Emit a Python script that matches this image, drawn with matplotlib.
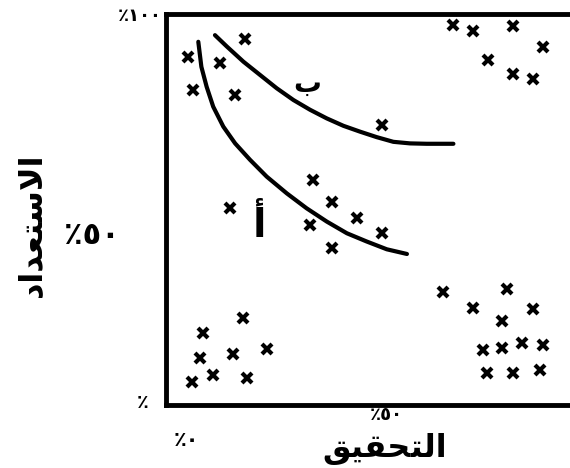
import matplotlib
matplotlib.use("Agg")
import matplotlib.pyplot as plt

plt.rcParams['font.family'] = ['DejaVu Sans']

# clusters of observations (percent achievement, percent readiness)
topleft_x = [5.0, 6.2, 12.3, 15.8, 18.0, 49.3, 14.6, 33.6, 37.9, 43.6, 49.3, 32.9, 37.9]
topleft_y = [89.0, 80.6, 87.5, 79.3, 93.6, 71.6, 50.4, 57.5, 51.9, 47.8, 44.0, 46.0, 40.2]
topright_x = [65.5, 70.1, 79.2, 86.1, 73.5, 79.2, 83.8]
topright_y = [97.2, 95.7, 96.9, 91.6, 88.2, 84.7, 83.4]
botright_x = [63.2, 77.9, 70.1, 83.8, 76.7, 72.4, 76.7, 81.3, 86.1, 73.3, 79.2, 85.4]
botright_y = [28.9, 29.7, 24.8, 24.6, 21.5, 14.1, 14.6, 15.9, 15.3, 8.2, 8.2, 9.0]
botleft_x = [8.4, 17.6, 7.8, 15.3, 23.1, 10.7, 5.9, 18.5]
botleft_y = [18.4, 22.3, 12.0, 13.0, 14.3, 7.7, 5.9, 6.9]

# curve b (upper) and curve a (lower)
curve_b_x = [11.2, 13.9, 17.7, 21.5, 25.3, 29.1, 32.9, 36.7, 40.5, 44.3, 48.1, 51.9, 55.7, 59.5, 65.6]
curve_b_y = [94.6, 91.7, 87.8, 84.4, 81.0, 78.0, 75.5, 73.3, 71.4, 69.9, 68.5, 67.3, 66.9, 66.8, 66.8]
curve_a_x = [7.4, 8.1, 9.3, 10.8, 13.1, 15.8, 19.2, 23.0, 27.6, 32.1, 36.7, 41.3, 45.8, 50.4, 55.0]
curve_a_y = [92.9, 86.5, 81.4, 76.3, 71.2, 66.9, 62.7, 58.4, 54.1, 50.3, 46.9, 43.9, 41.8, 39.8, 38.6]

# matplotlib has no arabic shaping, so the words are written in
# visual order with presentation forms
xlabel = '\ufed6\ufef4\ufed8\ufea4\ufe98\ufedf\ufe8d'          # التحقيق
ylabel = '\ufea9\ufe8d\ufeaa\ufecc\ufe98\ufeb3\ufefb\ufe8d'    # الاستعداد

fig = plt.figure(figsize=(5.7, 4.68), dpi=100)
ax = fig.add_axes([0.291, 0.135, 0.709, 0.835])
ax.set_xlim(0, 92.2)
ax.set_ylim(0, 100)
ax.set_xticks([])
ax.set_yticks([])
ax.spines['right'].set_visible(False)
for s in ['left', 'top', 'bottom']:
    ax.spines[s].set_linewidth(3.5)

for xs, ys in [(topleft_x, topleft_y), (topright_x, topright_y),
               (botright_x, botright_y), (botleft_x, botleft_y)]:
    ax.plot(xs, ys, 'x', color='black', ms=7.5, mew=3, linestyle='none')

ax.plot(curve_b_x, curve_b_y, color='black', lw=3, solid_capstyle='round')
ax.plot(curve_a_x, curve_a_y, color='black', lw=3, solid_capstyle='round')

ax.text(32.2, 82.0, 'ب', fontsize=20, fontweight='bold', ha='center', va='center')
ax.text(21.5, 46.0, 'أ', fontsize=28, fontweight='bold', ha='center', va='center')

# tick-like labels
fig.text(140 / 570, 1 - 16 / 468, '٪١٠٠', fontsize=13, fontweight='bold', ha='center', va='center')
fig.text(92 / 570, 1 - 235 / 468, '٪٥٠', fontsize=22, fontweight='bold', ha='center', va='center')
fig.text(143 / 570, 1 - 402 / 468, '٪', fontsize=14, fontweight='bold', ha='center', va='center')
fig.text(186 / 570, 1 - 440 / 468, '٪٠', fontsize=15, fontweight='bold', ha='center', va='center')
fig.text(386 / 570, 1 - 415 / 468, '٪٥٠', fontsize=13, fontweight='bold', ha='center', va='center')

fig.text(385 / 570, 1 - 449 / 468, xlabel, fontsize=23, fontweight='bold', ha='center', va='center')
fig.text(32 / 570, 1 - 225 / 468, ylabel, fontsize=23, fontweight='bold', ha='center', va='center', rotation=90)

fig.savefig('out.png', dpi=100, facecolor='white')
